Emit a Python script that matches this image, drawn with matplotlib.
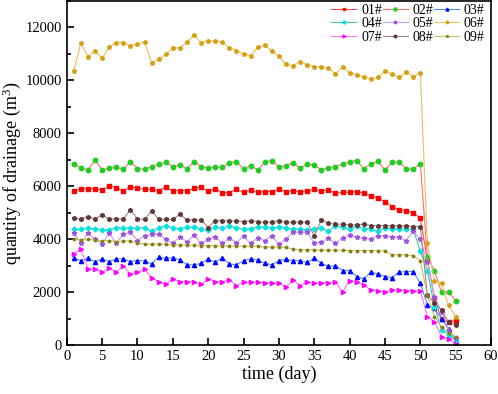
import numpy as np
import matplotlib.pyplot as plt
from matplotlib.ticker import MultipleLocator

plt.rcParams['font.family'] = ['Liberation Serif', 'DejaVu Serif']
plt.rcParams['mathtext.default'] = 'regular'

days = np.arange(1, 56)

s01 = [5820, 5900, 5900, 5900, 5860, 6010, 5950, 5820, 5985, 5920,
       5880, 5880, 5820, 5985, 5820, 5835, 5835, 5920, 5960, 5820,
       5900, 5760, 5760, 5880, 5770, 5860, 5770, 5800, 5800, 5880,
       5800, 5820, 5790, 5820, 5880, 5820, 5860, 5735, 5770, 5770,
       5800, 5735, 5645, 5545, 5420, 5230, 5105, 5080, 5005, 4790,
       3220, 1770, 980, 890, 915]
s02 = [6830, 6700, 6615, 6990, 6615, 6680, 6715, 6640, 6930, 6660,
       6640, 6740, 6830, 6905, 6740, 6800, 6660, 6930, 6740, 6680,
       6715, 6715, 6880, 6930, 6660, 6780, 6615, 6900, 6970, 6715,
       6780, 6890, 6680, 6830, 6800, 6615, 6700, 6740, 6830, 6930,
       6970, 6660, 6830, 6950, 6615, 6905, 6905, 6660, 6640, 6850,
       3320, 2815, 2000, 2000, 1685]
s03 = [3280, 3195, 3280, 3155, 3255, 3155, 3255, 3255, 3155, 3195,
       3180, 3070, 3320, 3280, 3300, 3220, 3030, 3030, 3090, 3255,
       3130, 3300, 3070, 3030, 3195, 3255, 3220, 3090, 3030, 3195,
       3240, 3195, 3195, 3120, 3280, 3090, 2970, 3000, 2815, 2815,
       2590, 2500, 2755, 2690, 2590, 2550, 2755, 2780, 2780, 2340,
       1530, 1400, 1000, 600, 150]
s04 = [4375, 4375, 4415, 4390, 4350, 4350, 4440, 4415, 4415, 4415,
       4440, 4310, 4440, 4500, 4440, 4390, 4450, 4450, 4390, 4350,
       4450, 4415, 4500, 4440, 4375, 4390, 4470, 4450, 4415, 4450,
       4415, 4375, 4375, 4350, 4375, 4415, 4310, 4500, 4470, 4375,
       4500, 4390, 4390, 4310, 4440, 4390, 4390, 4375, 4375, 3550,
       2800, 1450, 580, 390, 175]
s05 = [4225, 3850, 4225, 4000, 3820, 4225, 3850, 4200, 4265, 3950,
       4125, 4190, 4190, 4000, 3850, 4100, 3900, 4150, 3840, 3990,
       4100, 3840, 4040, 3870, 4110, 3840, 4060, 3950, 4125, 3810,
       4000, 4265, 4265, 4265, 3850, 3875, 4040, 3850, 4040, 4160,
       4075, 4040, 4000, 4125, 4125, 4075, 4075, 3950, 4310, 4010,
       3120, 1835, 1270, 580, 265]
s06 = [10350, 11420, 10890, 11100, 10830, 11245, 11420, 11420, 11290, 11380,
       11430, 10660, 10790, 10980, 11200, 11230, 11430, 11710, 11420, 11480,
       11480, 11430, 11230, 11120, 10990, 10930, 11245, 11330, 11120, 10900,
       10600, 10550, 10700, 10580, 10510, 10510, 10450, 10240, 10510, 10280,
       10200, 10140, 10050, 10110, 10350, 10240, 10110, 10300, 10140, 10290,
       3850, 2440, 2340, 1500, 1080]
s07 = [3445, 3620, 2870, 2890, 2755, 2905, 2755, 2990, 2680, 2755,
       2870, 2550, 2400, 2300, 2490, 2400, 2400, 2400, 2300, 2500,
       2400, 2400, 2465, 2250, 2375, 2375, 2375, 2360, 2360, 2340,
       2190, 2465, 2250, 2400, 2340, 2360, 2360, 2400, 2000, 2440,
       2400, 2275, 2085, 2060, 2020, 2085, 2085, 2060, 2060, 2050,
       1080, 890, 325, 225, 50]
s08 = [4790, 4765, 4855, 4765, 4915, 4765, 4765, 4765, 5105, 4765,
       4750, 5065, 4750, 4750, 4750, 4940, 4730, 4730, 4730, 4440,
       4700, 4700, 4690, 4690, 4665, 4690, 4665, 4640, 4640, 4700,
       4640, 4640, 4640, 4640, 4125, 4730, 4600, 4565, 4565, 4540,
       4540, 4565, 4515, 4515, 4515, 4500, 4500, 4500, 4475, 4475,
       1880, 1585, 1330, 855, 765]
s09 = [4010, 3975, 3990, 3975, 3935, 3950, 3910, 3935, 3935, 3850,
       3820, 3810, 3810, 3810, 3785, 3785, 3770, 3770, 3760, 3760,
       3750, 3750, 3740, 3740, 3740, 3730, 3730, 3700, 3700, 3700,
       3690, 3620, 3610, 3600, 3600, 3590, 3590, 3580, 3580, 3570,
       3570, 3570, 3565, 3560, 3560, 3410, 3410, 3410, 3380, 3190,
       1860, 1080, 680, 450, 325]

labels = ['01#', '02#', '03#', '04#', '05#', '06#', '07#', '08#', '09#']
series = [s01, s02, s03, s04, s05, s06, s07, s08, s09]
marker_colors = ['#FF0000', '#22CC22', '#0000FF', '#00E5E5', '#A050E0',
                 '#D4A010', '#FF00FF', '#603838', '#888010']
line_colors = ['#FF5050', '#FF7070', '#5090FF', '#40C8A0', '#C0A0F0',
               '#E8C060', '#FF70FF', '#A08888', '#C8C070']
markers = ['s', 'o', '^', 'D', '*', 'p', '>', 'h', '.']
msizes = [2.8, 3.2, 3, 2.5, 3.5, 2.8, 3, 2.8, 3.5]

fig = plt.figure(figsize=(4.98, 3.94), dpi=100)
ax = fig.add_axes([0.134, 0.124, 0.852, 0.874])

lines = []
for y, lab, mc, lc, mk, ms in zip(series, labels, marker_colors, line_colors, markers, msizes):
    ln, = ax.plot(days, y, color=lc, lw=0.8, marker=mk, ms=ms, mfc=mc, mec=mc, label=lab)
    lines.append(ln)

ax.set_xlim(0, 60)
ax.set_ylim(0, 13000)
ax.xaxis.set_major_locator(MultipleLocator(5))
ax.yaxis.set_major_locator(MultipleLocator(2000))
ax.yaxis.set_minor_locator(MultipleLocator(1000))
ax.tick_params(direction='in', which='both', labelsize=10.5, width=1.2)
ax.tick_params(which='major', length=5)
ax.tick_params(which='minor', length=3)
for sp in ax.spines.values():
    sp.set_linewidth(1.2)

ax.set_xlabel('time (day)', fontsize=13, labelpad=2)
ax.set_ylabel('quantity of drainage (m$^3$)', fontsize=13, labelpad=2)

# matplotlib fills legend columns first; reorder so rows read 01-03, 04-06, 07-09
order = [0, 3, 6, 1, 4, 7, 2, 5, 8]
ax.legend([lines[i] for i in order], [labels[i] for i in order],
          ncol=3, loc='upper right', frameon=False, fontsize=10,
          handlelength=1.8, columnspacing=0.05, handletextpad=0.35,
          labelspacing=0.05, borderaxespad=0.05, markerscale=0.7,
          bbox_to_anchor=(1.0, 1.01))

plt.savefig('out.png', dpi=100)
